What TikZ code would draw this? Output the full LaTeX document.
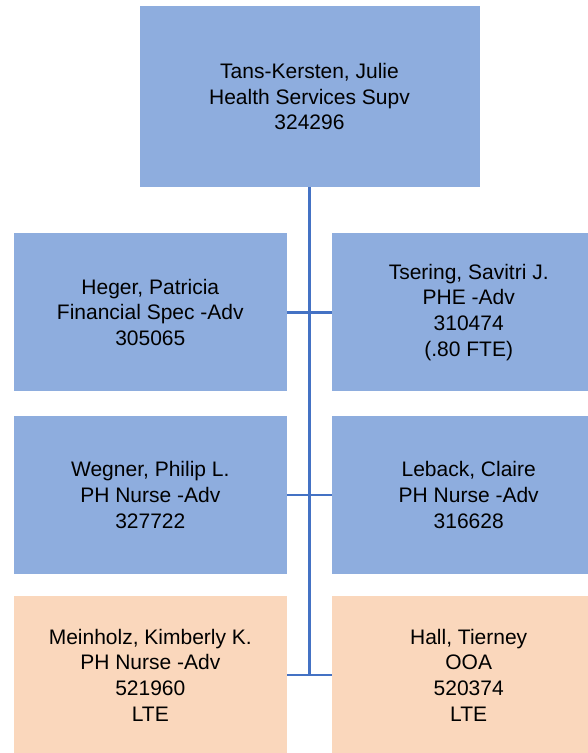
\documentclass[tikz,border=0pt]{standalone}
\usepackage{fontspec}
\setmainfont{Liberation Sans}
\usepackage{xcolor}
\usepackage{tikz}
\usetikzlibrary{positioning}

\definecolor{boxblue}{RGB}{142,173,222}
\definecolor{boxpeach}{RGB}{250,215,188}
\definecolor{lineblue}{RGB}{68,114,196}

\begin{document}
\begin{tikzpicture}[
    x=1pt, y=1pt,
    every node/.style={align=center, inner sep=0pt, font=\fontsize{21}{25.8}\selectfont},
    staff/.style={fill=boxblue, minimum width=273pt, minimum height=158pt},
    lte/.style={fill=boxpeach, minimum width=273pt, minimum height=158pt},
    conn/.style={draw=lineblue, line width=2.5pt}
]
\useasboundingbox (0,0) rectangle (588,-753);
\clip (0,0) rectangle (588,-753);

\node (sup) [fill=boxblue, minimum width=340pt, minimum height=181pt] at (309.5,-96.5)
    {Tans-Kersten, Julie\\Health Services Supv\\324296};

\node (heger) [staff, below left=46pt and 22.5pt of sup.south]
    {Heger, Patricia\\Financial Spec -Adv\\305065};
\node (tsering) [staff, below right=46pt and 22.5pt of sup.south]
    {Tsering, Savitri J.\\PHE -Adv\\310474\\(.80 FTE)};
\node (wegner) [staff, below=24pt of heger]
    {Wegner, Philip L.\\PH Nurse -Adv\\327722};
\node (leback) [staff, below=24pt of tsering]
    {Leback, Claire\\PH Nurse -Adv\\316628};
\node (meinholz) [lte, below=22pt of wegner]
    {Meinholz, Kimberly K.\\PH Nurse -Adv\\521960\\LTE};
\node (hall) [lte, below=22pt of leback]
    {Hall, Tierney\\OOA\\520374\\LTE};

\coordinate (trunk) at (sup.south |- meinholz.east);

\draw[conn] (sup.south) -- (trunk);
\draw[conn] (heger.east) -- (tsering.west);
\draw[conn] (wegner.east) -- (leback.west);
\draw[conn] (meinholz.east) -- (hall.west);
\end{tikzpicture}
\end{document}
